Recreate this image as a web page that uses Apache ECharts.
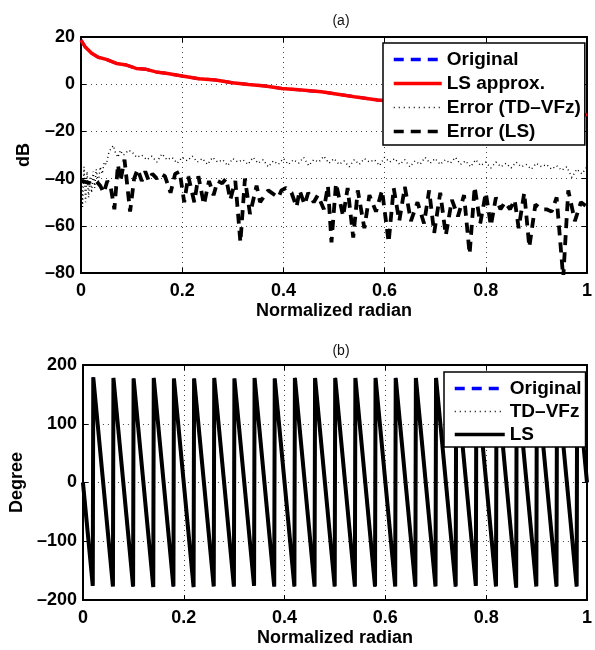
<!DOCTYPE html>
<html>
<head>
<meta charset="utf-8">
<script src="https://cdn.jsdelivr.net/npm/echarts@6/dist/echarts.min.js"></script>
<style>html,body{margin:0;padding:0;background:#fff;}#c{width:595px;height:650px;}</style>
</head>
<body>
<div id="c"></div>
<script>
// ---------- data ----------
const xTicks = [0, 0.2, 0.4, 0.6, 0.8, 1];
const magTicks = [-80, -60, -40, -20, 0, 20];
const phaseTicks = [-200, -100, 0, 100, 200];

// (a) magnitude, dB — [normalized radian, dB]
const magOriginal = [[0,18.7],[0.008,15.9],[0.021,13.1],[0.034,11.4],[0.05,10.5],[0.07,8.8],[0.09,8.1],[0.109,6.7],[0.129,6.3],[0.148,5.2],[0.168,4.6],[0.2,3.5],[0.233,2.3],[0.266,1.8],[0.299,0.6],[0.331,-0.1],[0.364,-0.8],[0.397,-1.8],[0.43,-2.4],[0.475,-3.2],[0.54,-5.3],[0.586,-6.7],[0.65,-8],[0.72,-9.5],[0.8,-10.8],[0.9,-12],[0.985,-13.5],[1,-12.8]];
const magLS = [[0,18.7],[0.008,15.9],[0.021,13.1],[0.034,11.4],[0.05,10.5],[0.07,8.8],[0.09,8.1],[0.109,6.7],[0.129,6.3],[0.148,5.2],[0.168,4.6],[0.2,3.5],[0.233,2.3],[0.266,1.8],[0.299,0.6],[0.331,-0.1],[0.364,-0.8],[0.397,-1.8],[0.43,-2.4],[0.475,-3.2],[0.54,-5.3],[0.586,-6.7],[0.65,-8],[0.72,-9.5],[0.8,-10.8],[0.9,-12],[0.985,-13.5],[1,-12.8]];
const errTDVFz = [[0,-33],[0.003,-52],[0.006,-35],[0.009,-50],[0.012,-37],[0.015,-48],[0.018,-39],[0.021,-46],[0.024,-37],[0.027,-44],[0.03,-36],[0.034,-42],[0.038,-35],[0.042,-38],[0.046,-33],[0.05,-34],[0.055,-29],[0.06,-27],[0.064,-26],[0.068,-29],[0.073,-31],[0.078,-28],[0.083,-30],[0.088,-29.5],[0.093,-28],
[0.10,-28.5],[0.11,-31],[0.12,-30],[0.13,-32],[0.14,-30.5],[0.15,-33],[0.16,-29.5],[0.17,-32],[0.18,-31],[0.19,-33.5],[0.20,-31],[0.21,-32.5],[0.22,-30.5],[0.23,-33],[0.24,-31.5],[0.25,-34],[0.26,-31],[0.27,-33],[0.28,-32],[0.29,-34.5],[0.30,-31.5],[0.31,-33],[0.32,-32],[0.33,-34],[0.34,-31],[0.35,-33.5],[0.36,-32],[0.37,-35],[0.38,-32.5],[0.39,-34],[0.40,-31.5],[0.41,-34],[0.42,-32],[0.43,-33.5],[0.44,-31],[0.45,-34.5],[0.46,-32],[0.47,-33],[0.48,-30.5],[0.49,-33.5],[0.50,-31.5],[0.51,-34],[0.52,-32.5],[0.53,-35],[0.54,-32],[0.55,-34],[0.56,-31.5],[0.57,-33],[0.58,-32],[0.59,-34.5],[0.60,-31],[0.61,-33],[0.62,-31.5],[0.63,-34],[0.64,-32],[0.65,-35],[0.66,-32.5],[0.67,-34],[0.68,-31],[0.69,-33.5],[0.70,-31.5],[0.71,-34],[0.72,-32],[0.73,-33.5],[0.74,-31],[0.75,-34],[0.76,-32.5],[0.77,-35],[0.78,-32],[0.79,-34.5],[0.80,-33],[0.81,-35.5],[0.82,-33],[0.83,-35],[0.84,-33.5],[0.85,-35.5],[0.86,-33],[0.87,-35],[0.88,-34],[0.89,-36],[0.90,-33.5],[0.91,-35],[0.92,-34],[0.93,-36],[0.94,-34.5],[0.95,-36.5],[0.96,-35],[0.97,-39.5],[0.98,-36],[0.99,-38],[1.00,-35]];
const errLS = [[0,-41],[0.01,-41.5],[0.02,-42],[0.03,-41],[0.038,-43],[0.045,-46],[0.052,-41],[0.059,-44],[0.066,-53],[0.073,-34],[0.078,-41],[0.086,-32],[0.097,-54],[0.105,-40],[0.112,-36],[0.12,-41],[0.127,-37],[0.134,-41],[0.141,-38],[0.15,-40],[0.158,-38],[0.166,-39],[0.177,-46],[0.186,-38],[0.195,-37],[0.204,-50],[0.212,-39],[0.224,-50],[0.232,-39],[0.243,-51],[0.253,-41],[0.262,-47],[0.27,-41],[0.279,-42],[0.287,-40],[0.295,-49],[0.305,-41],[0.315,-67],[0.324,-40],[0.334,-55],[0.347,-43],[0.354,-50],[0.37,-45],[0.39,-48],[0.396,-45],[0.405,-44],[0.416,-46],[0.426,-52],[0.432,-45],[0.442,-51],[0.449,-46],[0.46,-50],[0.468,-47],[0.48,-53],[0.488,-43],[0.495,-67],[0.504,-42],[0.518,-56],[0.527,-44],[0.538,-65],[0.547,-45],[0.56,-61],[0.57,-47],[0.583,-54],[0.595,-45],[0.608,-67],[0.618,-44],[0.629,-58],[0.64,-43.5],[0.652,-58],[0.665,-50],[0.678,-59],[0.688,-45],[0.698,-63],[0.71,-46],[0.721,-64],[0.733,-49],[0.745,-56],[0.757,-47],[0.768,-72],[0.778,-43.5],[0.789,-59],[0.8,-46],[0.81,-60],[0.82,-48],[0.829,-53],[0.838,-50],[0.848,-53],[0.857,-49],[0.865,-61],[0.876,-46],[0.886,-69],[0.898,-51],[0.91,-53],[0.92,-53],[0.93,-54],[0.94,-48],[0.953,-82],[0.963,-45],[0.976,-58],[0.988,-50],[1.0,-52]];

// (b) phase, degree — [normalized radian, degree]
const phaseOriginal = [[0,0],[0.0195,-176],[0.0205,179],[0.0595,-177],[0.0605,178],[0.0995,-177],[0.1005,177],[0.1395,-178],[0.1405,178],[0.1795,-177],[0.1805,177],[0.2195,-178],[0.2205,177],[0.2595,-177],[0.2605,178],[0.2995,-177],[0.3005,177],[0.3395,-176],[0.3405,178],[0.3795,-177],[0.3805,177],[0.4195,-177],[0.4205,178],[0.4595,-177],[0.4605,178],[0.4995,-177],[0.5005,178],[0.5395,-177],[0.5405,178],[0.5795,-177],[0.5805,178],[0.6195,-177],[0.6205,178],[0.6595,-177],[0.6605,178],[0.6995,-177],[0.7005,178],[0.7395,-177],[0.7405,178],[0.7795,-176],[0.7805,178],[0.8195,-177],[0.8205,178],[0.8595,-179],[0.8605,178],[0.8995,-177],[0.9005,178],[0.9395,-177],[0.9405,178],[0.9795,-177],[0.9805,178],[1,0]];
const phaseTDVFz = phaseOriginal;
const phaseLS = phaseOriginal;

// ---------- styles ----------
const FONT = '"Liberation Sans", Arial, Helvetica, sans-serif';
const lbl = {fontFamily: FONT, fontSize: 18, fontWeight: 'bold', color: '#000'};
const legLbl = {fontFamily: FONT, fontSize: 19, fontWeight: 'bold', color: '#000', padding:[0,0,0,0]};
const fmt = v => String(v).replace('-', '\u2013');
const grid0 = {left: 81, top: 37, width: 510, height: 236};
const grid1 = {left: 81, top: 365, width: 510, height: 235};

function xMain(gi){
  return {type:'value', gridIndex: gi, min: 0, max: 1, interval: 0.2, position:'bottom',
    axisLine:{show:true, onZero:false, lineStyle:{color:'#000', width:2}},
    axisTick:{show:true, inside:true, length:5, lineStyle:{color:'#000', width:1}},
    axisLabel:Object.assign({margin:9, formatter: fmt}, lbl),
    splitLine:{show:true, lineStyle:{color:'#444', width:1, type:[1,4]}},
    name:'Normalized radian', nameLocation:'middle', nameGap:29,
    nameTextStyle: lbl};
}
function xTop(gi){
  return {type:'value', gridIndex: gi, min: 0, max: 1, interval: 0.2, position:'top',
    axisLine:{show:true, onZero:false, lineStyle:{color:'#000', width:2}},
    axisTick:{show:true, inside:true, length:5, lineStyle:{color:'#000', width:1}},
    axisLabel:{show:false}, splitLine:{show:false}};
}
function yMain(gi, mn, mx, step, name, gap){
  return {type:'value', gridIndex: gi, min: mn, max: mx, interval: step, position:'left',
    axisLine:{show:true, onZero:false, lineStyle:{color:'#000', width:2}},
    axisTick:{show:true, inside:true, length:5, lineStyle:{color:'#000', width:1}},
    axisLabel:Object.assign({margin:6, formatter: fmt}, lbl),
    splitLine:{show:true, lineStyle:{color:'#444', width:1, type:[1,4]}},
    name: name, nameLocation:'middle', nameGap: gap, nameRotate: 90,
    nameTextStyle: lbl};
}
function yRight(gi, mn, mx, step){
  return {type:'value', gridIndex: gi, min: mn, max: mx, interval: step, position:'right',
    axisLine:{show:true, onZero:false, lineStyle:{color:'#000', width:2}},
    axisTick:{show:true, inside:true, length:5, lineStyle:{color:'#000', width:1}},
    axisLabel:{show:false}, splitLine:{show:false}};
}
function line(name, xi, yi, data, color, width, type, z){
  return {name, type:'line', xAxisIndex: xi, yAxisIndex: yi, data, symbol:'none', showSymbol:false,
    legendIcon:'none', clip:true, z: z, lineStyle:{color, width, type, cap:'butt'}, itemStyle:{color}};
}

const chart = echarts.init(document.getElementById('c'), null, {renderer:'canvas'});
chart.setOption({
  animation: false,
  backgroundColor: '#fff',
  title: [
    {text:'(a)', left: 336, top: 9, textAlign:'center', textStyle:{fontFamily: FONT, fontSize: 14, fontWeight:'normal', color:'#111'}},
    {text:'(b)', left: 336, top: 339, textAlign:'center', textStyle:{fontFamily: FONT, fontSize: 14, fontWeight:'normal', color:'#111'}}
  ],
  grid: [grid0, grid1],
  xAxis: [xMain(0), xTop(0), xMain(1), xTop(1)],
  yAxis: [yMain(0, -80, 20, 20, 'dB', 48), yRight(0, -80, 20, 20), yMain(1, -200, 200, 100, 'Degree', 56), yRight(1, -200, 200, 100)],
  legend: [
    {data:[
       {name:'Original', lineStyle:{width:3.5, type:[10,7]}},
       {name:'LS approx.', lineStyle:{width:3.5}},
       {name:'Error (TD\u2013VFz)', lineStyle:{width:1.5, type:[1,4]}},
       {name:'Error (LS)', lineStyle:{width:3.5, type:[10,7]}}],
     orient:'vertical', left: 383, top: 43,
     padding:[7,4,4,9], itemGap: 5, itemWidth: 48, itemHeight: 14, backgroundColor:'#fff', borderColor:'#000', borderWidth:1.5,
     borderRadius: 0, textStyle: legLbl, itemStyle:{opacity:0}, selectedMode:false, z: 10},
    {data:[
       {name:'Original', lineStyle:{width:3.5, type:[10,7]}},
       {name:'TD\u2013VFz', lineStyle:{width:1.5, type:[1,4]}},
       {name:'LS', lineStyle:{width:3.5}}],
     orient:'vertical', left: 444, top: 372,
     padding:[7,4,3,9], itemGap: 4, itemWidth: 50, itemHeight: 14, backgroundColor:'#fff', borderColor:'#000', borderWidth:1.5,
     borderRadius: 0, textStyle: legLbl, itemStyle:{opacity:0}, selectedMode:false, z: 10}
  ],
  series: [
    line('Original', 0, 0, magOriginal, '#0000ff', 3, [10,7], 2),
    line('LS approx.', 0, 0, magLS, '#ff0000', 3.5, 'solid', 3),
    line('Error (TD\u2013VFz)', 0, 0, errTDVFz, '#000', 1.4, [1,3], 3),
    line('Error (LS)', 0, 0, errLS, '#000', 3.8, [10,7], 4),
    line('Original', 2, 2, phaseOriginal, '#0000ff', 2.5, [10,7], 2),
    line('TD\u2013VFz', 2, 2, phaseTDVFz, '#000', 1.5, [1,3], 3),
    line('LS', 2, 2, phaseLS, '#000', 4, 'solid', 4)
  ]
});
</script>
</body>
</html>
